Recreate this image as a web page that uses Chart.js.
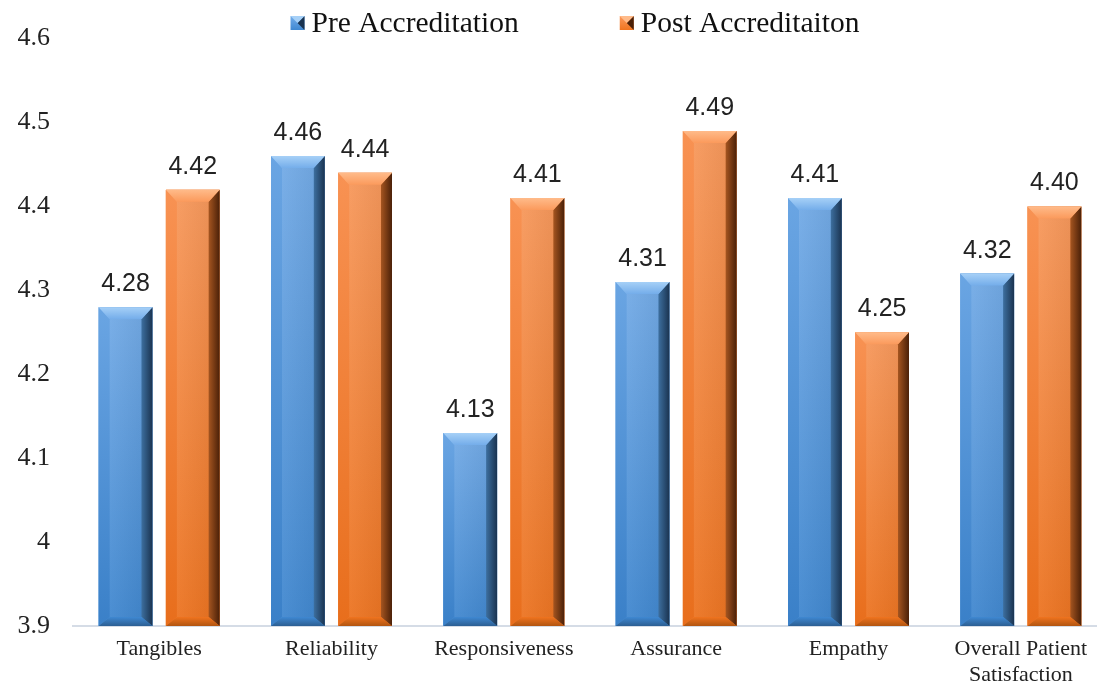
<!DOCTYPE html>
<html>
<head>
<meta charset="utf-8">
<script src="https://cdn.jsdelivr.net/npm/chart.js@4.4.0/dist/chart.umd.min.js"></script>
<style>
html,body{margin:0;padding:0;background:#fff;overflow:hidden;}
#wrap{position:relative;width:1110px;height:683px;}
</style>
</head>
<body>
<div id="wrap"><canvas id="c"></canvas></div>
<script>
const categories = ['Tangibles','Reliability','Responsiveness','Assurance','Empathy',['Overall Patient','Satisfaction']];
const preValues = [4.28, 4.46, 4.13, 4.31, 4.41, 4.32];
const postValues = [4.42, 4.44, 4.41, 4.49, 4.25, 4.40];
const seriesNames = ['Pre Accreditation','Post Accreditaiton'];
const yTickLabels = {'3.9':'3.9','4':'4','4.1':'4.1','4.2':'4.2','4.3':'4.3','4.4':'4.4','4.5':'4.5','4.6':'4.6'};

const SERIF = '"Liberation Serif","Times New Roman",serif';
const palettes = [
  {face:['#74adea','#3f88d2'], top:'#a6d0f7', left:['#6aa5e3','#3a80c8'], right:['#3d6f9f','#1a3350'], bottom:'#2c5f93', legend:'#4f93d8'},
  {face:['#fb9a5c','#f0741f'], top:'#ffbb8a', left:['#f89253','#e86e1c'], right:['#a55520','#4a2008'], bottom:'#b25510', legend:'#ef7a2a'}
];

function lg(ctx, x0,y0,x1,y1, c0,c1){const g=ctx.createLinearGradient(x0,y0,x1,y1);g.addColorStop(0,c0);g.addColorStop(1,c1);return g;}
function poly(ctx, pts, fill){ctx.beginPath();ctx.moveTo(pts[0][0],pts[0][1]);for(let i=1;i<pts.length;i++)ctx.lineTo(pts[i][0],pts[i][1]);ctx.closePath();ctx.fillStyle=fill;ctx.fill();}

const bevelPlugin = {
  id:'bevel',
  afterDatasetsDraw(chart){
    const ctx = chart.ctx;
    const area = chart.chartArea;
    chart.data.datasets.forEach((ds, di)=>{
      const meta = chart.getDatasetMeta(di);
      const p = palettes[di];
      meta.data.forEach((el, i)=>{
        const {x, y, width, base} = el.getProps(['x','y','width','base'], true);
        const l = x - width/2, r = x + width/2, t = y, b = Math.min(base, area.bottom);
        const bv = Math.min(11, width/4);
        const tb = 12, bb = 9;
        ctx.save();
        poly(ctx, [[l,t],[r,t],[r,b],[l,b]], lg(ctx, 0,t,0,b, p.face[0], p.face[1]));
        poly(ctx, [[l,t],[r,t],[r,b],[l,b]], lg(ctx, l,0,r,0, 'rgba(255,255,255,0.08)', 'rgba(0,0,0,0.08)'));
        poly(ctx, [[l,t],[l+bv,t+tb],[l+bv,b-bb],[l,b]], lg(ctx,0,t,0,b,p.left[0],p.left[1]));
        poly(ctx, [[r,t],[r,b],[r-bv,b-bb],[r-bv,t+tb]], lg(ctx,r-bv,0,r,0,p.right[0],p.right[1]));
        poly(ctx, [[l,b],[l+bv,b-bb],[r-bv,b-bb],[r,b]], lg(ctx,0,b-bb,0,b,p.face[1],p.bottom));
        poly(ctx, [[l,t],[r,t],[r-bv,t+tb],[l+bv,t+tb]], lg(ctx,0,t,0,t+tb,p.top,p.face[0]));
        ctx.restore();
        ctx.save();
        ctx.font = '25px "Liberation Sans", Arial, sans-serif';
        ctx.fillStyle = '#222';
        ctx.textAlign = 'center';
        ctx.textBaseline = 'alphabetic';
        ctx.fillText(ds.data[i].toFixed(2), x, t - 16);
        ctx.restore();
      });
    });
  }
};

const legendPlugin = {
  id:'customLegend',
  afterDraw(chart){
    const ctx = chart.ctx;
    const font = '29.5px ' + SERIF;
    ctx.save();
    ctx.font = font;
    const box = 14, gapText = 7, gapItem = 101;
    const items = chart.data.datasets.map((d,i)=>({label:d.label, w: box + gapText + ctx.measureText(d.label).width, p: palettes[i]}));
    const total = items.reduce((s,it)=>s+it.w,0) + gapItem*(items.length-1);
    const cx = (chart.chartArea.left + chart.chartArea.right)/2 - 15;
    let x = cx - total/2;
    const yc = 23;
    items.forEach(it=>{
      const bx = x, by = yc - box/2;
      poly(ctx, [[bx,by],[bx+box,by],[bx+box,by+box],[bx,by+box]], lg(ctx,0,by,0,by+box,it.p.face[0],it.p.face[1]));
      poly(ctx, [[bx+box,by],[bx+box,by+box],[bx+box/2,by+box/2]], it.p.right[1]);
      poly(ctx, [[bx,by],[bx+box,by],[bx+box/2,by+box/2]], it.p.top);
      ctx.fillStyle = '#111';
      ctx.textAlign = 'left';
      ctx.textBaseline = 'middle';
      ctx.fillText(it.label, bx + box + gapText, yc + 1);
      x += it.w + gapItem;
    });
    ctx.restore();
  }
};

new Chart(document.getElementById('c'), {
  type:'bar',
  data:{
    labels: categories,
    datasets:[
      {label: seriesNames[0], data: preValues, backgroundColor: palettes[0].legend, borderWidth:0, categoryPercentage:0.78, barPercentage:0.8},
      {label: seriesNames[1], data: postValues, backgroundColor: palettes[1].legend, borderWidth:0, categoryPercentage:0.78, barPercentage:0.8}
    ]
  },
  plugins:[bevelPlugin, legendPlugin],
  options:{
    responsive:true,
    maintainAspectRatio:false,
    animation:false,
    layout:{padding:{top:38,right:3,bottom:0,left:0}},
    plugins:{
      tooltip:{enabled:false},
      legend:{display:false}
    },
    scales:{
      x:{
        grid:{display:false, drawTicks:false},
        border:{display:true, color:'#d5dce6', width:2},
        afterFit:(s)=>{s.height = 57;},
        ticks:{font:{family:SERIF, size:22, lineHeight:1.15}, color:'#222', padding:11, maxRotation:0, autoSkip:false}
      },
      y:{
        min:3.9, max:4.6,
        grid:{display:false, drawTicks:false},
        border:{display:false},
        afterFit:(s)=>{s.width = 73;},
        ticks:{
          stepSize:0.1,
          font:{family:SERIF, size:26},
          color:'#222',
          padding:23,
          callback:(v)=>{const k=String(Math.round(v*10)/10);return yTickLabels[k] ?? k;}
        }
      }
    }
  }
});
</script>
</body>
</html>
